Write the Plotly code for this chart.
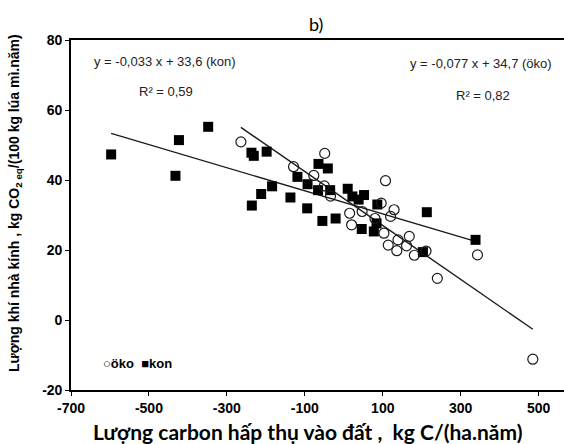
import plotly.graph_objects as go

# --- data ---
kon_x = [-597, -423, -432, -348, -237, -231, -198, -236, -212, -184, -137, -119, -93, -94,
         -65, -41, -66, -35, -55, -21, 10, 22, 38, 52, 46, 86, 84, 77, 203, 213, 338]
kon_y = [47.3, 51.4, 41.2, 55.2, 47.8, 46.9, 48.1, 32.7, 36.0, 38.2, 35.0, 40.9, 38.8, 31.9,
         44.6, 43.3, 37.1, 37.1, 28.3, 29.0, 37.5, 35.3, 34.4, 35.7, 26.0, 33.0, 27.6, 25.3,
         19.4, 30.8, 22.9]

oko_x = [-264, -129, -49, -77, -50, -34, 107, 96, 15, 20, 47, 80, 129, 120, 103, 114,
         139, 136, 168, 161, 181, 211, 240, 343, 485]
oko_y = [50.9, 43.8, 47.6, 41.3, 38.3, 35.4, 39.8, 33.4, 30.5, 27.2, 31.0, 29.0, 31.5, 29.6,
         24.8, 21.4, 22.9, 19.8, 23.9, 21.2, 18.5, 19.7, 11.9, 18.6, -11.2]

kon_slope, kon_intercept = -0.033, 33.6
oko_slope, oko_intercept = -0.077, 34.7

x_ticks = [-700, -500, -300, -100, 100, 300, 500]
y_ticks = [-20, 0, 20, 40, 60, 80]

kon_line_x = [min(kon_x), max(kon_x)]
kon_line_y = [kon_slope * v + kon_intercept for v in kon_line_x]
oko_line_x = [min(oko_x), max(oko_x)]
oko_line_y = [oko_slope * v + oko_intercept for v in oko_line_x]

fig = go.Figure()
fig.add_trace(go.Scatter(x=kon_line_x, y=kon_line_y, mode="lines",
                         line=dict(color="#1a1a1a", width=1.4), showlegend=False))
fig.add_trace(go.Scatter(x=oko_line_x, y=oko_line_y, mode="lines",
                         line=dict(color="#1a1a1a", width=1.4), showlegend=False))
fig.add_trace(go.Scatter(x=kon_x, y=kon_y, mode="markers", name="kon",
                         marker=dict(symbol="square", size=10, color="black",
                                     line=dict(width=0)), showlegend=False))
fig.add_trace(go.Scatter(x=oko_x, y=oko_y, mode="markers", name="öko",
                         marker=dict(symbol="circle-open", size=10, color="#1a1a1a",
                                     line=dict(width=1.2)), showlegend=False))

tf = dict(family="Liberation Sans, Arial", size=14, color="black", weight="bold")
fig.update_xaxes(range=[-700, 565], tickvals=x_ticks, ticktext=[str(v) for v in x_ticks],
                 showgrid=False, zeroline=False, showline=True, linecolor="black",
                 linewidth=1.6, mirror=True, ticks="outside", ticklen=4, tickwidth=1.2,
                 tickcolor="black", tickfont=tf, automargin=False)
fig.update_yaxes(range=[-20, 80], tickvals=y_ticks, ticktext=[str(v) for v in y_ticks],
                 showgrid=False, zeroline=False, showline=True, linecolor="black",
                 linewidth=1.6, ticks="outside", ticklen=4, tickwidth=1.2,
                 tickcolor="black", tickfont=tf, automargin=False)

ann_font = dict(family="Liberation Sans, Arial", size=13, color="#222")
W, H = 493, 350
def px(xp):
    return (xp - 71) / W
def py(yp):
    return (390 - yp) / H

annotations = [
    dict(text="y = -0,033 x + 33,6 (kon)", x=px(92), y=py(62), xanchor="left", yanchor="middle",
         font=ann_font),
    dict(text="R² = 0,59", x=px(137), y=py(91), xanchor="left", yanchor="middle", font=ann_font),
    dict(text="y = -0,077 x + 34,7 (öko)", x=px(408), y=py(63), xanchor="left", yanchor="middle",
         font=ann_font),
    dict(text="R² = 0,82", x=px(454), y=py(95), xanchor="left", yanchor="middle", font=ann_font),
    dict(text="<b>○öko  ■kon</b>", x=px(101), y=py(363), xanchor="left", yanchor="middle",
         font=dict(family="Liberation Sans, Arial", size=13, color="black")),
    dict(text="b)", x=px(316), y=py(24), xanchor="center", yanchor="middle",
         font=dict(family="Lato", size=18, color="black")),
    dict(text="<b>Lượng carbon hấp thụ vào đất ,  kg C/(ha.năm)</b>", x=px(307), y=py(431),
         xanchor="center", yanchor="middle",
         font=dict(family="Lato", size=21, color="black")),
    dict(text="<b>Lượng khí nhà kính , kg CO<sub>2 eq</sub>/(100 kg lúa mì.năm)</b>",
         x=px(15), y=py(203), xanchor="center", yanchor="middle", textangle=-90,
         font=dict(family="Liberation Sans, Arial", size=14, color="black")),
]
for a in annotations:
    a.update(xref="paper", yref="paper", showarrow=False)

fig.update_layout(width=564, height=444, margin=dict(l=71, r=0, t=40, b=54),
                  plot_bgcolor="white", paper_bgcolor="white", annotations=annotations,
                  showlegend=False)

fig.write_html("out.html", config={"displayModeBar": False},
               post_script="document.body.style.margin='0';document.body.style.overflow='hidden';")
